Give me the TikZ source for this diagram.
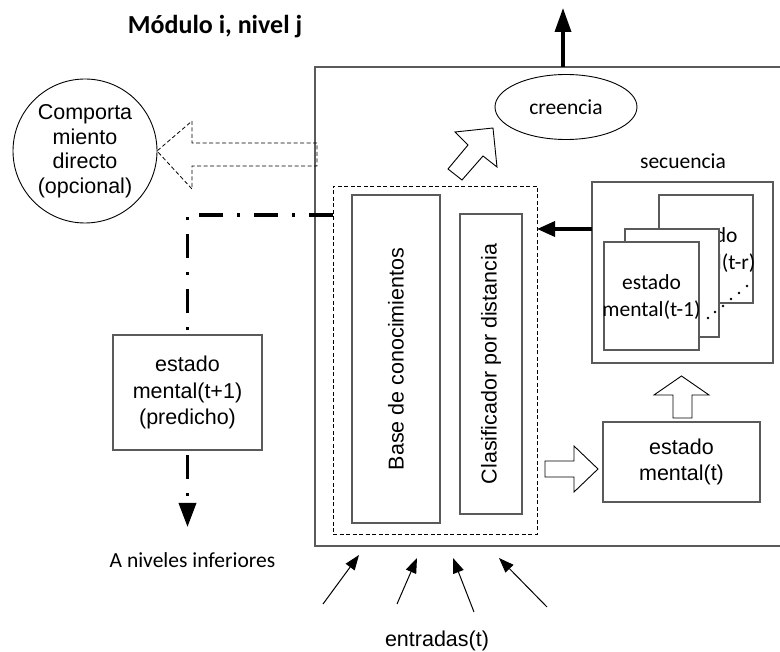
\documentclass[tikz,border=0pt]{standalone}
\usepackage{fontspec}
\setmainfont{Liberation Sans}
\newfontfamily\calibrifont{Carlito}
\usetikzlibrary{arrows.meta,calc,shapes.geometric}
\definecolor{boxgray}{HTML}{5A5A5A}

\begin{document}
\begin{tikzpicture}[x=1pt,y=-1pt,
  every node/.style={inner sep=0pt, outer sep=0pt},
  arialtxt/.style={font=\fontsize{21.5}{25.5}\selectfont, align=center},
  calitxt/.style={font=\calibrifont\fontsize{21.5}{27}\selectfont, align=center},
  frame/.style={draw=boxgray, line width=1.1pt, fill=white},
  thinline/.style={draw=black, line width=0.9pt},
  dashedline/.style={draw=black, line width=0.8pt, dash pattern=on 4pt off 2.5pt},
  hollowarrow/.style={draw=black, line width=0.9pt, fill=white, line join=miter},
  heavyarrow/.style={line width=3.5pt, -{Triangle[length=24pt,width=16pt]}},
  dashdot/.style={line width=3.5pt, dash pattern=on 24pt off 14pt on 3pt off 14pt},
  inputarrow/.style={line width=1pt, -{Triangle[length=15pt,width=11pt]}},
]
\useasboundingbox (0,0) rectangle (780,652);

% title
\node[font=\calibrifont\bfseries\fontsize{26}{30}\selectfont, anchor=base] (title) at (215,33.3) {Módulo i, nivel j};

% module frame (right side runs past the page edge)
\node[frame, fill=none, minimum width=485pt, minimum height=479pt] (mod) at (557.5,306.5) {};

% output of the module
\coordinate (outtop) at (563,8);
\draw[heavyarrow] (mod.north -| outtop) -- (outtop);

% belief
\node[draw=black, line width=0.9pt, ellipse, minimum width=142pt, minimum height=65pt, calitxt] (bel) at (566,107) {creencia};

% direct behaviour
\node[draw=black, line width=0.9pt, circle, minimum size=144pt, arialtxt, font=\fontsize{21.5}{24.5}\selectfont] (beh) at (85,151) {Comporta\\miento\\directo\\(opcional)};

% dashed block arrow towards the behaviour
\draw[dashedline] (317,143) -- (192,143) -- (192,121) -- (beh.east) -- (192,189) -- (192,166) -- (317,166) -- cycle;

% core: knowledge base and classifier
\node[dashedline, minimum width=204pt, minimum height=348pt] (core) at (435,360) {};
\node[frame, minimum width=88pt, minimum height=328pt] (kb) at (396,359) {};
\node[arialtxt, rotate=90] (kbtxt) at (kb) {Base de conocimientos};
\node[frame, minimum width=62pt, minimum height=300pt] (clf) at (491,364) {};
\node[arialtxt, rotate=90] (clftxt) at (clf) {Clasificador por distancia};

% block arrow from the core to the belief
\draw[hollowarrow] (493,128) -- (497,167) -- (483,156) -- (462,180) -- (448,169) -- (468,145) -- (455,132) -- cycle;

% sequence of past states
\node[calitxt, anchor=base] (seqlbl) at (683,169) {secuencia};
\node[frame, minimum width=181pt, minimum height=181pt] (seq) at (682.5,272.5) {};
\node[frame, minimum width=94pt, minimum height=108pt] (cardr) at (706,249) {};
\node[calitxt] (cardrtxt) at (708,250) {estado\\mental(t-r)};
\node[frame, minimum width=94pt, minimum height=108pt] (cardm) at (672,283) {};
\node[frame, minimum width=95pt, minimum height=108pt] (cardf) at (651.5,296) {};
\node[calitxt] (cardftxt) at (651.5,297) {estado\\mental(t-1)};
\foreach \px/\py in {708/318, 715/312, 723/306, 731/299, 739/293, 747/286}
  \fill (\px,\py) circle (1.3pt);

% sequence feeds the core
\coordinate (seqout) at ($(seq.west)+(0,-43.5)$);
\draw[line width=3.5pt, -{Triangle[length=18pt,width=15pt]}] (seqout) -- (seqout -| core.east);

% current mental state
\node[frame, minimum width=157pt, minimum height=80pt, arialtxt, font=\fontsize{21.5}{26}\selectfont] (mt) at (681.5,462) {estado\\mental(t)};
\draw[hollowarrow] (545,461) -- (574,461) -- (574,446) -- (598,469) -- (574,492) -- (574,477) -- (545,477) -- cycle;
\draw[hollowarrow] (673,418) -- (673,395) -- (654,395) -- (681.5,376) -- (709,395) -- (692,395) -- (692,418) -- cycle;

% predicted mental state
\node[frame, minimum width=149pt, minimum height=115pt, arialtxt, font=\fontsize{21.5}{26.5}\selectfont] (pred) at (187.5,392.5) {estado\\mental(t+1)\\(predicho)};
\draw[dashdot] (core.west |- 0,215) -| (pred.north);
\coordinate (lowtip) at (187.5,527);
\draw[dashdot, -{Triangle[length=24pt,width=17pt]}] ($(pred.south)+(0,5)$) -- (lowtip);
\node[calitxt, anchor=center] (lowlbl) at (192.5,560) {A niveles inferiores};

% inputs
\coordinate (i1a) at (323,604); \coordinate (i1b) at (359,555);
\coordinate (i2a) at (397,604); \coordinate (i2b) at (417,558);
\coordinate (i3a) at (474,612); \coordinate (i3b) at (453,558);
\coordinate (i4a) at (547,607); \coordinate (i4b) at (499,558);
\draw[inputarrow] (i1a) -- (i1b);
\draw[inputarrow] (i2a) -- (i2b);
\draw[inputarrow] (i3a) -- (i3b);
\draw[inputarrow] (i4a) -- (i4b);
\node[arialtxt] (inlbl) at (437,641) {entradas(t)};
\end{tikzpicture}
\end{document}
